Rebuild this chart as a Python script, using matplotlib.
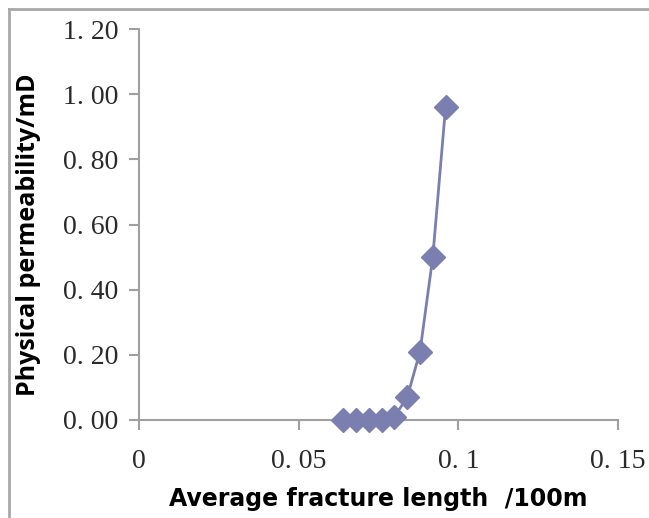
import matplotlib
matplotlib.use("Agg")
import matplotlib.pyplot as plt
from matplotlib.lines import Line2D

# fracture length (x 100m) and permeability (mD)
frac_length = [0.064, 0.068, 0.072, 0.076, 0.080, 0.084, 0.088, 0.092, 0.096]
permeability = [0.0, 0.0, 0.0, 0.0, 0.01, 0.07, 0.21, 0.50, 0.96]

x_ticks = [0, 0.05, 0.1, 0.15]
x_labels = ["0", "0. 05", "0. 1", "0. 15"]
y_ticks = [0, 0.2, 0.4, 0.6, 0.8, 1.0, 1.2]
y_labels = ["0. 00", "0. 20", "0. 40", "0. 60", "0. 80", "1. 00", "1. 20"]

color = "#7b7fb0"
axis_gray = "#a0a0a0"

fig = plt.figure(figsize=(6.49, 5.18), dpi=100)
ax = fig.add_axes([0.2142, 0.1892, 0.738, 0.7548])

ax.plot(frac_length, permeability, color=color, lw=2, marker="D",
        markersize=12, markeredgecolor=color, markerfacecolor=color,
        clip_on=False, zorder=3)

ax.set_xlim(0, 0.15)
ax.set_ylim(0, 1.2)
ax.set_xticks(x_ticks)
ax.set_xticklabels(x_labels)
ax.set_yticks(y_ticks)
ax.set_yticklabels(y_labels)

for s in ["top", "right"]:
    ax.spines[s].set_visible(False)
for s in ["left", "bottom"]:
    ax.spines[s].set_color(axis_gray)
    ax.spines[s].set_linewidth(1.5)

ax.tick_params(axis="both", direction="out", length=7, width=1.5,
               color=axis_gray, labelcolor="#2a2a2a", labelsize=20)
ax.tick_params(axis="x", pad=14)
ax.tick_params(axis="y", pad=8)
for lbl in ax.get_xticklabels() + ax.get_yticklabels():
    lbl.set_family("Liberation Serif")

ax.set_ylabel("Physical permeability/mD", fontsize=18, fontweight="bold",
              family="Open Sans")
ax.yaxis.set_label_coords(-0.205, 0.475)
ax.set_xlabel("Average fracture length  /100m", fontsize=17, fontweight="bold",
              family="DejaVu Sans", labelpad=9)

# chart area border (top and left only visible)
fig.add_artist(Line2D([0.014, 1.0], [0.983, 0.983], transform=fig.transFigure,
                      color="#a8a8a8", lw=2))
fig.add_artist(Line2D([0.014, 0.014], [0.0, 0.983], transform=fig.transFigure,
                      color="#a8a8a8", lw=2))

fig.savefig("out.png", dpi=100)
